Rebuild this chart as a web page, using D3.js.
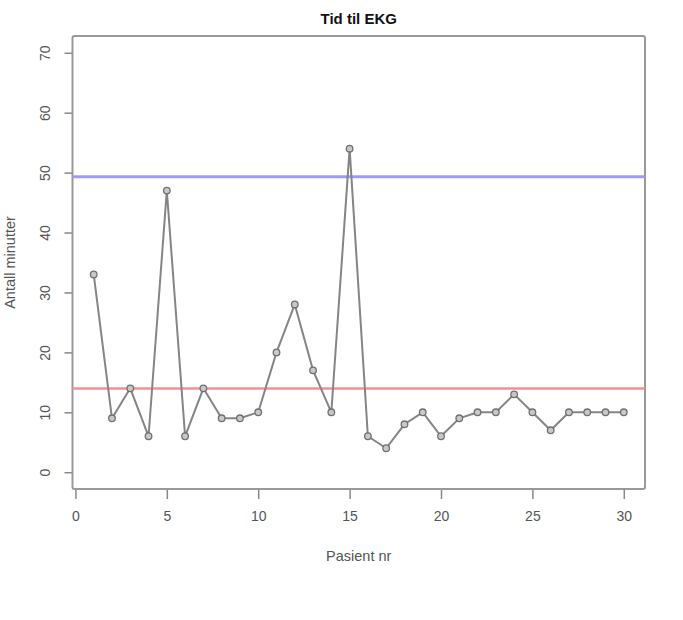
<!DOCTYPE html>
<html><head><meta charset="utf-8">
<script src="https://cdn.jsdelivr.net/npm/d3@7"></script>
<style>body{margin:0;background:#fff}svg{display:block}text{font-family:"Liberation Sans",Arial,sans-serif}</style>
</head><body>
<script>
const patients = d3.range(1, 31);
const minutes = [33,9,14,6,47,6,14,9,9,10,20,28,17,10,54,6,4,8,10,6,9,10,10,13,10,7,10,10,10,10];
const meanLine = 13.97;
const upperLine = 49.3;
const xTicks = [0,5,10,15,20,25,30];
const yTicks = [0,10,20,30,40,50,60,70];
const title = "Tid til EKG";
const xLabel = "Pasient nr";
const yLabel = "Antall minutter";

const W = 683, H = 620;
const svg = d3.select("body").append("svg").attr("width", W).attr("height", H);
const pL = 72.5, pR = 645, pT = 36, pB = 489;
const x = d3.scaleLinear().domain([-0.16, 31.16]).range([pL, pR]);
const y = d3.scaleLinear().domain([-2.8, 72.8]).range([pB, pT]);

// axes
const xAxis = svg.append("g").attr("transform", `translate(0,${pB})`)
  .call(d3.axisBottom(x).tickValues(xTicks).tickSize(10).tickPadding(12).tickFormat(d3.format("d")));
const yAxis = svg.append("g").attr("transform", `translate(${pL},0)`)
  .call(d3.axisLeft(y).tickValues(yTicks).tickSize(8).tickPadding(10).tickFormat(d3.format("d")));
[xAxis, yAxis].forEach(g => {
  g.select(".domain").remove();
  g.selectAll(".tick line").attr("stroke", "#888").attr("stroke-width", 1.5);
  g.selectAll(".tick text").attr("fill", "#555").attr("font-size", 14);
});
yAxis.selectAll(".tick text")
  .attr("text-anchor", "middle")
  .attr("transform", `rotate(-90, -27, 0)`)
  .attr("x", -27).attr("dy", "0.35em");
xAxis.selectAll(".tick text").attr("dy", "0.71em");

// box
svg.append("rect").attr("x", pL).attr("y", pT).attr("width", pR - pL).attr("height", pB - pT)
  .attr("fill", "none").attr("stroke", "#999").attr("stroke-width", 2).attr("rx", 2);

// reference lines
svg.append("line").attr("x1", pL).attr("x2", pR).attr("y1", y(upperLine)).attr("y2", y(upperLine))
  .attr("stroke", "#9c9cf7").attr("stroke-width", 3);
svg.append("line").attr("x1", pL).attr("x2", pR).attr("y1", y(meanLine)).attr("y2", y(meanLine))
  .attr("stroke", "#f59090").attr("stroke-width", 2.5);

// data line
const data = patients.map((p, i) => ({p, v: minutes[i]}));
svg.append("path").datum(data)
  .attr("d", d3.line().x(d => x(d.p)).y(d => y(d.v)))
  .attr("fill", "none").attr("stroke", "#858585").attr("stroke-width", 2);
svg.append("g").selectAll("circle").data(data).join("circle")
  .attr("cx", d => x(d.p)).attr("cy", d => y(d.v)).attr("r", 3.3)
  .attr("fill", "#c8c8c8").attr("stroke", "#707070").attr("stroke-width", 1.3);

// titles
svg.append("text").attr("x", (pL + pR) / 2).attr("y", 24).attr("text-anchor", "middle")
  .attr("font-weight", "bold").attr("font-size", 15).attr("fill", "#111").text(title);
svg.append("text").attr("x", (pL + pR) / 2).attr("y", 561).attr("text-anchor", "middle")
  .attr("font-size", 14.5).attr("fill", "#555").text(xLabel);
svg.append("text").attr("transform", `translate(15,${(pT + pB) / 2}) rotate(-90)`)
  .attr("text-anchor", "middle").attr("font-size", 14.5).attr("fill", "#555").text(yLabel);
</script>
</body></html>
